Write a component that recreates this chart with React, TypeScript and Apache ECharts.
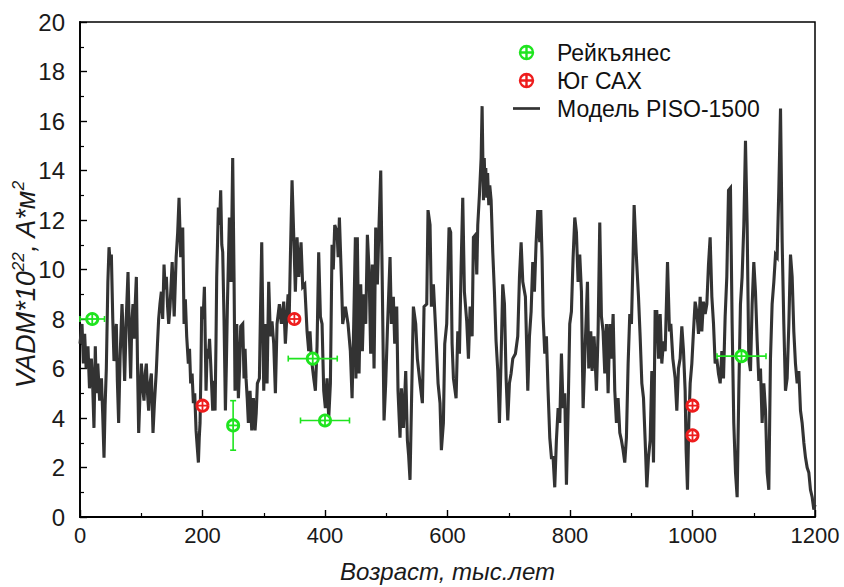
import React, { useEffect, useRef } from "react";
import * as echarts from "echarts";

const FONT = '"Liberation Sans", Arial, sans-serif';
const GREEN = "#1fe41f";
const RED = "#ee1d1d";
const LINE = "#333333";

// Reykjanes data: age (kyr), VADM, age error, VADM error
const reykAge = [20, 250, 380, 400, 1080];
const reykVadm = [8.0, 3.7, 6.4, 3.9, 6.5];
const reykAgeErr = [20, 0, 40, 40, 40];
const reykVadmErr = [0, 1.0, 0, 0, 0];

// South MAR (Юг САХ)
const sahAge = [200, 350, 1000, 1000];
const sahVadm = [4.5, 8.0, 4.5, 3.3];

// PISO-1500 model [age kyr, VADM]
const pisoModel: [number, number][] = [
  [0, 7.0], [3.3, 7.8], [5.5, 6.2], [7.6, 7.4], [10, 6.0], [13, 6.9], [15.5, 5.2], [18.5, 6.4], [20.5, 5.5], [22.8, 3.6],
  [25, 6.9], [26.7, 5.0], [29, 6.2], [32.1, 4.7], [35, 5.6], [37, 4.2], [39.2, 2.4], [41, 4.5], [43, 6.0], [45.5, 9.5],
  [47.4, 10.9], [49.5, 10.2], [51.2, 10.6], [53.5, 8.0], [55.5, 6.3], [57.5, 7.2], [59.3, 7.8], [61, 5.5], [63.1, 3.8], [65.5, 6.5],
  [68.6, 8.6], [70.8, 7.2], [72.9, 5.5], [75.5, 8.0], [78.4, 9.9], [80.5, 7.5], [82.7, 5.6], [84.5, 7.8], [86.5, 8.6], [88.5, 7.2],
  [90, 8.5], [92, 9.7], [94, 6.0], [95.8, 3.4], [98, 5.0], [100.2, 6.2], [102.5, 5.2], [104.5, 4.7], [106.5, 5.8], [108.3, 6.2],
  [110.2, 5.0], [112.1, 4.3], [114.3, 5.4], [116.5, 5.8], [118, 4.5], [119.2, 3.4], [121.5, 4.6], [124.6, 5.9], [126.5, 7.0], [128.4, 8.0],
  [130.5, 8.6], [132.8, 9.1], [135, 8.0], [137.2, 10.2], [139, 9.2], [141, 9.7], [143, 8.5], [144.8, 7.8], [147, 8.5],
  [150.5, 10.3], [153.8, 8.1], [157, 10.5], [159.5, 11.5], [161.7, 12.9], [164.4, 10.5], [167.7, 11.7], [169.9, 7.8], [172, 8.8], [174.2, 7.3],
  [176.9, 6.2], [178.8, 6.8], [180.7, 5.4], [183, 5.8], [185.1, 4.6], [187.3, 5.0], [189.5, 3.5], [191.5, 2.8], [193.3, 2.2], [194.7, 3.2],
  [196, 3.8], [197.5, 6.0], [198.7, 8.5], [201, 8.0], [203.1, 9.3], [205.8, 5.1], [207.7, 6.8], [209.6, 6.4], [211.5, 7.2], [213.4, 6.2],
  [216.7, 4.3], [218.6, 5.5], [220.5, 4.3], [222, 7.0], [223.2, 9.7], [225.9, 12.5], [227.8, 11.8], [229.7, 13.2], [231.5, 11.0], [233, 10.7],
  [235.2, 7.9], [237.4, 4.3], [239, 6.2], [240.6, 8.5], [243.9, 12.1], [246.6, 9.5], [249.3, 14.5], [251.5, 9.7], [253.1, 5.1], [255.9, 7.8],
  [258.6, 4.8], [260.5, 6.0], [262.4, 7.7], [265.7, 7.8], [267.8, 5.6], [269.5, 6.8], [271.1, 5.6], [273, 4.8], [274.9, 3.8], [277.6, 5.1],
  [280.4, 3.5], [283.1, 4.8], [285.8, 3.5], [287.7, 4.2], [289.6, 5.4], [292.9, 5.6], [294.8, 8.5], [296.7, 11.1],
  [300, 5.1], [302.6, 7.8], [305.4, 5.4], [308.1, 9.5], [310.8, 7.3], [313.5, 7.9], [316.3, 7.0], [319, 5.0], [321.7, 7.8], [325.5, 8.6],
  [328.8, 7.8], [332.6, 8.7], [335.3, 7.0], [339.7, 9.0], [341.5, 8.0], [343.5, 10.5], [346.2, 13.6], [348.9, 11.4], [351.6, 9.1], [354.4, 11.3],
  [357.1, 9.7], [360.9, 11.1], [363.6, 9.3], [366.9, 9.4], [370.7, 7.5], [373.4, 6.7], [375.5, 7.5], [377.8, 6.4], [381.6, 5.6], [384.3, 5.1],
  [387, 6.9], [389.7, 10.7], [392.5, 8.1], [395.2, 7.8], [397.9, 5.1], [400.6, 4.4], [403.3, 5.6], [406.1, 4.0], [408.8, 5.4], [411.5, 11.0],
  [413.5, 10.0], [415.9, 11.8], [419.7, 11.5], [421.5, 10.5], [423.5, 12.1], [426.7, 9.7], [428.9, 7.8], [433.3, 8.5], [437.6, 7.8], [441.4, 6.7],
  [444.2, 4.8], [446.9, 7.8], [449.6, 11.3],
  [450.5, 5.6], [452.8, 11.3], [455.6, 5.8], [458.3, 9.4], [461, 6.7], [463.7, 9.0], [466.5, 7.8], [469.2, 11.4], [471.9, 10.0], [474.6, 6.6],
  [477.3, 10.2], [480.1, 6.0], [482.8, 11.7], [485.5, 9.4], [488.2, 11.8], [491, 14.0], [493.7, 9.1], [496.4, 3.9], [499.1, 5.4], [501.8, 7.5],
  [504, 9.0], [506.2, 10.5], [508.4, 7.8], [511.6, 8.9], [513.8, 7.0], [517.1, 8.5], [519.2, 5.1], [522.5, 3.2], [524.7, 5.2], [528, 3.6],
  [531.8, 5.9], [534.5, 3.1], [536.5, 2.5], [538.8, 1.5], [541, 4.3], [544.3, 8.5], [548.1, 7.8], [550.8, 6.4], [555.2, 5.4], [559, 4.6],
  [561.7, 8.5], [566.1, 8.6], [568.2, 12.4], [571.5, 11.8], [573.7, 8.5], [577, 9.4], [580.8, 7.5], [584.6, 5.4], [587.8, 4.6], [590, 2.7],
  [593.3, 3.8], [595.5, 7.0], [598.7, 7.8], [602.5, 11.7], [605.2, 11.5],
  [607.5, 7.0], [609.7, 5.6], [614, 4.8], [616.8, 7.5], [619.5, 6.6], [622.2, 10.1], [624.9, 12.9], [627.6, 9.1], [631.4, 7.9], [634.2, 6.4],
  [636.9, 8.5], [640.2, 7.3], [642.3, 11.3], [645.6, 11.4], [647.8, 9.8], [649.4, 11.8], [652.1, 13.0], [654.9, 14.5], [656.5, 16.6], [658.7, 12.8],
  [660, 14.5], [661.4, 13.2], [662.5, 14.1], [664.1, 12.9], [665.5, 13.9], [667.4, 12.6], [669, 13.4], [671.2, 12.8], [673.9, 10.7], [676.6, 9.1],
  [679.3, 7.1], [682.1, 5.9], [684.8, 3.8], [687.5, 6.4], [690.2, 9.4], [693, 8.6], [695.7, 5.6], [698.4, 3.9], [701.1, 5.4], [703.8, 5.8],
  [706.6, 6.4], [710.9, 6.6], [714.7, 7.3], [717.5, 9.7], [720.2, 11.1], [722.9, 9.5], [727.2, 8.9], [731.1, 5.1], [733.8, 7.3], [736.5, 8.3],
  [739.2, 10.3], [741.9, 9.1], [744.7, 11.1], [747.4, 12.4],
  [750.6, 11.1], [752.3, 12.4], [754.4, 10.5], [756.1, 8.1], [758.8, 6.6], [761.5, 7.3], [764.2, 5.1], [767, 3.2], [769.7, 2.4], [772.4, 2.4],
  [775.1, 1.2], [777.8, 3.1], [780.6, 4.4], [783.3, 3.8], [786, 6.6], [788.7, 4.4], [791.4, 5.0], [794.2, 1.3], [796.9, 4.3], [799.6, 7.8],
  [802.3, 8.3], [805.1, 10.5], [807.8, 12.1], [810.5, 11.5], [813.2, 9.5], [815.9, 10.6], [818.7, 9.1], [821.4, 4.4], [824.1, 6.4], [828.5, 9.5],
  [830.6, 6.0], [833.9, 7.5], [836.1, 5.9], [839.3, 7.3], [843.2, 5.1], [845.9, 7.5], [848.6, 11.9], [851.3, 8.1], [854, 7.5], [856.8, 5.8],
  [859.5, 7.8], [862.2, 5.0], [864.9, 7.8], [867.6, 6.4], [870.4, 8.2], [873.1, 5.1], [875.8, 3.8], [878.5, 4.8], [881.3, 3.4], [884, 3.1],
  [886.7, 2.7], [889.4, 2.2], [892.1, 3.2], [894.9, 6.2], [897.6, 8.2], [900.3, 7.8], [903, 10.5],
  [904.7, 12.6], [908, 10.7], [911.8, 8.9], [914.5, 7.3], [917.3, 5.4], [920, 4.8], [922.7, 3.1], [925.4, 1.2], [928.1, 2.4], [930.9, 3.1],
  [933.6, 5.9], [936.3, 2.2], [939, 8.3], [941.7, 8.3], [944.5, 6.4], [947.2, 8.2], [949.9, 6.2], [952.6, 7.1], [955.4, 6.7], [959.2, 10.3],
  [962.4, 7.5], [964.6, 7.8], [967.9, 6.4], [971.7, 5.6], [974.4, 4.3], [977.1, 6.0], [979.8, 6.4], [982.6, 7.7], [985.3, 6.7], [988, 5.1],
  [989.6, 2.7], [991.8, 1.1], [994, 3.8], [996.2, 5.4], [998.9, 6.2], [1001.6, 7.5], [1004.3, 8.7], [1007.1, 8.3], [1009.8, 7.4], [1012.5, 8.9],
  [1015.2, 7.5], [1017.9, 8.7], [1020.7, 8.2], [1023.4, 8.6], [1026.1, 10.2], [1028.8, 11.3], [1031.6, 8.9], [1034.3, 7.8], [1037, 6.2], [1039.7, 6.4],
  [1042.4, 5.8], [1045.2, 5.4], [1047.9, 6.7], [1050.6, 5.6], [1053.3, 8.1], [1056, 9.7], [1058.8, 13.2],
  [1062, 13.3], [1064.7, 7.8], [1067.4, 3.8], [1070.2, 1.8], [1072.9, 0.8], [1075.6, 5.1], [1078.3, 8.6], [1081, 9.7], [1083.8, 11.8], [1086.5, 15.2],
  [1089.2, 11.8], [1091.9, 6.4], [1094.7, 5.9], [1097.4, 8.6], [1100.1, 10.3], [1102.8, 9.1], [1105.6, 7.1], [1108.3, 5.5], [1111, 6.0], [1113.7, 3.8],
  [1116.4, 5.4], [1119.2, 4.3], [1121.9, 1.8], [1124.6, 1.1], [1127.3, 6.4], [1130, 8.6], [1132.8, 9.5], [1135.5, 10.6], [1138.2, 10.5], [1140.9, 13.2],
  [1143.7, 16.5], [1146.4, 11.1], [1149.1, 7.8], [1151.8, 5.1], [1154.5, 5.6], [1157.3, 7.8], [1160, 10.6], [1162.7, 9.7], [1165.4, 7.5], [1168.1, 6.2],
  [1170.9, 5.4], [1173.6, 5.9], [1176.3, 4.3], [1179, 3.8], [1181.8, 3.0], [1184.5, 2.4], [1187.2, 2.0], [1189.9, 1.8], [1192.6, 1.1], [1195.4, 0.8],
  [1198.1, 0.3], [1200, 0.5],
];

const MARKER_ICON =
  "path://M0,-6A6,6 0 1,1 0,6A6,6 0 1,1 0,-6Z M-6,0L6,0 M0,-6L0,6";
const LINE_ICON = "path://M0,0H30V3H0Z";

function makeRenderItem(color: string) {
  return (params: any, api: any) => {
    const x = api.value(0);
    const y = api.value(1);
    const ex = api.value(2) || 0;
    const ey = api.value(3) || 0;
    const c = api.coord([x, y]);
    const children: any[] = [];
    const ls = { stroke: color, lineWidth: 1.6 };
    if (ex > 0) {
      const l = api.coord([x - ex, y]);
      const r = api.coord([x + ex, y]);
      children.push({ type: "line", shape: { x1: l[0], y1: l[1], x2: r[0], y2: r[1] }, style: ls });
      children.push({ type: "line", shape: { x1: l[0], y1: l[1] - 3, x2: l[0], y2: l[1] + 3 }, style: ls });
      children.push({ type: "line", shape: { x1: r[0], y1: r[1] - 3, x2: r[0], y2: r[1] + 3 }, style: ls });
    }
    if (ey > 0) {
      const t = api.coord([x, y + ey]);
      const b = api.coord([x, y - ey]);
      children.push({ type: "line", shape: { x1: t[0], y1: t[1], x2: b[0], y2: b[1] }, style: ls });
      children.push({ type: "line", shape: { x1: t[0] - 3, y1: t[1], x2: t[0] + 3, y2: t[1] }, style: ls });
      children.push({ type: "line", shape: { x1: b[0] - 3, y1: b[1], x2: b[0] + 3, y2: b[1] }, style: ls });
    }
    const R = 5.6;
    children.push({ type: "circle", shape: { cx: c[0], cy: c[1], r: R }, style: { fill: "#fff", stroke: color, lineWidth: 2.8 } });
    children.push({ type: "line", shape: { x1: c[0] - R, y1: c[1], x2: c[0] + R, y2: c[1] }, style: { stroke: color, lineWidth: 1.8 } });
    children.push({ type: "line", shape: { x1: c[0], y1: c[1] - R, x2: c[0], y2: c[1] + R }, style: { stroke: color, lineWidth: 1.8 } });
    return { type: "group", children };
  };
}

export default function App() {
  const ref = useRef<HTMLDivElement>(null);
  useEffect(() => {
    if (!ref.current) return;
    const chart = echarts.init(ref.current, undefined, { renderer: "svg" });
    chart.setOption({
      animation: false,
      backgroundColor: "#ffffff",
      grid: {
        left: 80,
        right: 29,
        top: 22,
        bottom: 70,
        show: true,
        borderColor: "#000",
        borderWidth: 1.5,
        containLabel: false,
        outerBoundsMode: "none",
      },
      legend: {
        left: 508,
        top: 36,
        orient: "vertical",
        itemWidth: 27,
        itemHeight: 13,
        itemGap: 5,
        selectedMode: false,
        textStyle: { fontFamily: FONT, fontSize: 23, color: "#111", padding: [0, 0, 0, 12] },
        data: [
          { name: "Рейкъянес", icon: MARKER_ICON, itemStyle: { color: "#fff", borderColor: GREEN, borderWidth: 2.4 } },
          { name: "Юг САХ", icon: MARKER_ICON, itemStyle: { color: "#fff", borderColor: RED, borderWidth: 2.4 } },
          { name: "Модель PISO-1500", icon: LINE_ICON, itemStyle: { color: LINE } },
        ],
      },
      xAxis: {
        type: "value",
        min: 0,
        max: 1200,
        interval: 200,
        name: "Возраст, тыс.лет",
        nameLocation: "middle",
        nameGap: 42,
        nameTextStyle: { fontFamily: FONT, fontSize: 24, fontStyle: "italic", color: "#1a1a1a" },
        axisLine: { show: true, lineStyle: { color: "#000", width: 1.8 } },
        axisTick: { show: true, inside: true, length: 7, lineStyle: { color: "#000", width: 1.4 } },
        minorTick: { show: true, splitNumber: 2, length: 4, lineStyle: { color: "#000", width: 1.2 } },
        splitLine: { show: false },
        axisLabel: { fontFamily: FONT, fontSize: 22, color: "#1a1a1a", margin: 7, formatter: (v: number) => String(v) },
      },
      yAxis: {
        type: "value",
        min: 0,
        max: 20,
        interval: 2,
        name: "VADM*10{sup|22}, A*м{sup|2}",
        nameLocation: "middle",
        nameGap: 38,
        nameMoveOverlap: false,
        nameTextStyle: {
          fontFamily: FONT,
          fontSize: 27,
          fontStyle: "italic",
          color: "#1a1a1a",
          lineHeight: 32,
          padding: [0, 30, 0, 0],
          rich: { sup: { fontFamily: FONT, fontSize: 17, fontStyle: "italic", color: "#1a1a1a", verticalAlign: "top", lineHeight: 16 } },
        },
        axisLine: { show: true, lineStyle: { color: "#000", width: 1.8 } },
        axisTick: { show: true, inside: true, length: 7, lineStyle: { color: "#000", width: 1.4 } },
        minorTick: { show: true, splitNumber: 2, length: 4, lineStyle: { color: "#000", width: 1.2 } },
        splitLine: { show: false },
        axisLabel: { fontFamily: FONT, fontSize: 24, color: "#1a1a1a", margin: 15 },
      },
      series: [
        {
          name: "Модель PISO-1500",
          type: "line",
          data: pisoModel,
          symbol: "none",
          z: 2,
          lineStyle: { color: LINE, width: 3.1, join: "miter" },
          itemStyle: { color: LINE },
        },
        {
          name: "Рейкъянес",
          type: "custom",
          z: 4,
          itemStyle: { color: GREEN },
          encode: { x: 0, y: 1 },
          data: reykAge.map((a, i) => [a, reykVadm[i], reykAgeErr[i], reykVadmErr[i]]),
          renderItem: makeRenderItem(GREEN),
        },
        {
          name: "Юг САХ",
          type: "custom",
          z: 4,
          itemStyle: { color: RED },
          encode: { x: 0, y: 1 },
          data: sahAge.map((a, i) => [a, sahVadm[i], 0, 0]),
          renderItem: makeRenderItem(RED),
        },
      ],
    });
    return () => chart.dispose();
  }, []);
  return (
    <div
      ref={ref}
      style={{ position: "fixed", left: 0, top: 0, width: 844, height: 587, background: "#fff" }}
    />
  );
}
